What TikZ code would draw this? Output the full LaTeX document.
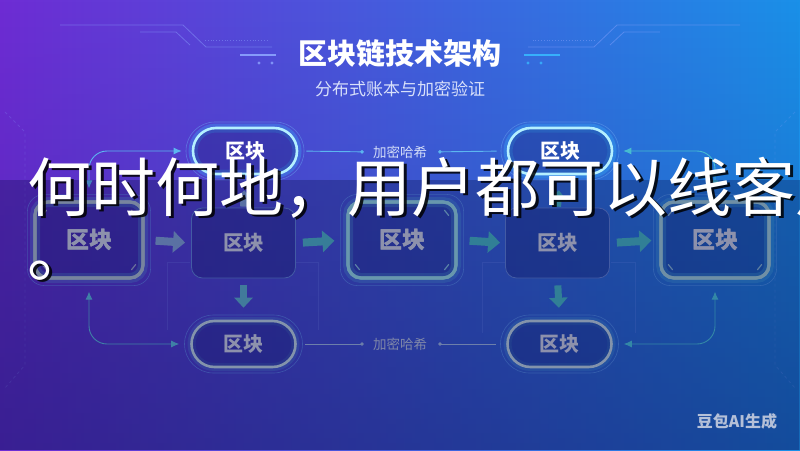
\documentclass[tikz,border=0pt]{standalone}
\usepackage{fontspec}
\setmainfont{Noto Sans CJK SC}
\usetikzlibrary{arrows.meta,shapes.misc,fadings,calc}

\definecolor{bgA}{HTML}{6E2CD4}
\definecolor{bgB}{HTML}{3A52DC}
\definecolor{bgC}{HTML}{1A90E8}
\definecolor{bgDark}{HTML}{141A78}
\definecolor{bandC}{HTML}{0A1048}
\definecolor{decoC}{HTML}{8CA4FF}
\definecolor{ringC}{HTML}{6AA8F0}
\definecolor{nodeFill}{HTML}{14186A}
\definecolor{topLine}{HTML}{B4F0FF}
\definecolor{glowBlue}{HTML}{38B8FF}
\definecolor{glowTeal}{HTML}{5CC8E0}
\definecolor{botLine}{HTML}{B8CDD6}
\definecolor{labelGray}{HTML}{C6CAD8}
\definecolor{thinLine}{HTML}{5C7CCC}
\definecolor{lGray}{HTML}{A9B7C4}
\definecolor{cTeal}{HTML}{92D2DA}
\definecolor{rTeal}{HTML}{9CC6CE}
\definecolor{arrGray}{HTML}{7E9CCB}
\definecolor{arrTeal}{HTML}{42B0B8}
\definecolor{connBlue}{HTML}{5CB6F0}
\definecolor{connTeal}{HTML}{46BCD0}
\definecolor{hashTxt}{HTML}{D2DCF8}
\definecolor{subTxt}{HTML}{D8E0FA}
\definecolor{markTxt}{HTML}{B4C0D8}

\tikzfading[name=fadedown, top color=transparent!100, bottom color=transparent!0]

\tikzset{
 deco/.style={draw=decoC, line width=0.8pt, opacity=0.45},
 ring/.style={draw=ringC, line width=0.6pt, opacity=0.5},
 tick/.style={line width=1.2pt, line cap=round, opacity=0.8},
 pill/.style={rounded rectangle, minimum width=104pt, minimum height=46pt, inner sep=0pt,
   line width=2.6pt, fill=nodeFill, fill opacity=0.3, text opacity=1,
   font=\bfseries\fontsize{20}{20}\selectfont},
 pilltop/.style={pill, draw=topLine, text=white,
   preaction={draw=glowBlue, line width=9pt, draw opacity=0.3}},
 pillbot/.style={pill, draw=botLine, text=labelGray,
   preaction={draw=glowTeal, line width=8pt, draw opacity=0.18}},
 thickbox/.style={rectangle, rounded corners=13pt, minimum width=108pt, minimum height=76pt,
   inner sep=0pt, line width=3.2pt, fill=nodeFill, fill opacity=0.3, text opacity=1,
   text=labelGray, font=\bfseries\fontsize{23}{23}\selectfont},
 thinbox/.style={rectangle, rounded corners=11pt, minimum width=104pt, minimum height=70pt,
   inner sep=0pt, draw=thinLine, line width=0.8pt, fill=nodeFill, fill opacity=0.35,
   text opacity=1, text=labelGray, font=\bfseries\fontsize{20.5}{20.5}\selectfont},
 barrow/.style={line width=8pt, -{Triangle[length=12pt,width=21pt]}},
 varrow/.style={line width=7pt, -{Triangle[length=10pt,width=18pt]}},
 conn/.style={line width=0.9pt, rounded corners=18pt,
   {Latex[length=8pt,width=7pt]}-{Latex[length=8pt,width=7pt]}},
 hline/.style={line width=0.9pt, -{Circle[length=3.5pt]}},
 hash/.style={inner sep=0pt, text=hashTxt, font=\fontsize{13.5}{13.5}\selectfont},
 big/.style={anchor=base west, inner sep=0pt, font=\fontsize{64}{64}\selectfont},
}

\newcommand\cornerticks[2]{%
  \draw[tick,#2] ($(#1.north west)+(9,15)$) -- ($(#1.north west)+(13,10)$);
  \draw[tick,#2] ($(#1.north east)+(-9,15)$) -- ($(#1.north east)+(-13,10)$);
  \draw[tick,#2] ($(#1.south west)+(9,-15)$) -- ($(#1.south west)+(13,-10)$);
  \draw[tick,#2] ($(#1.south east)+(-9,-15)$) -- ($(#1.south east)+(-13,-10)$);
}
\newcommand\glowbox[3]{% node, colour, glow
  \draw[#3, line width=10pt, opacity=0.22, rounded corners=13pt]
    ($(#1.north west)+(1.6,1.6)$) rectangle ($(#1.south east)+(-1.6,-1.6)$);
  \draw[ring, rounded corners=17pt]
    ($(#1.north west)+(-6,-6)$) rectangle ($(#1.south east)+(6,6)$);
}

\begin{document}
\begin{tikzpicture}[x=1pt,y=-1pt]
\useasboundingbox (0,0) rectangle (800,450);
\clip (0,0) rectangle (800,450);

% background
\shade[left color=bgA, middle color=bgB, right color=bgC] (0,0) rectangle (800,450);
\fill[bgDark, path fading=fadedown, opacity=0.35] (0,0) rectangle (800,450);

% circuit decorations, left
\draw[deco] (60,25) -- (183,25) -- (206,47) -- (272,47);
\draw[deco] (140,32) -- (176,32) -- (190,45);
\draw[deco, dotted, line width=1pt] (205,40) -- (268,40);
\draw[decoC, line width=2pt, opacity=0.9] (240,55) -- (276,55);
\fill[decoC, opacity=0.8] (259,63) circle (1.6) (272,63) circle (1.6);
% circuit decorations, right
\draw[deco] (740,25) -- (617,25) -- (594,47) -- (528,47);
\draw[deco] (660,32) -- (624,32) -- (610,45);
\draw[deco, dotted, line width=1pt] (595,40) -- (532,40);
\draw[glowBlue, line width=2pt, opacity=0.9] (560,55) -- (524,55);
\fill[glowBlue, opacity=0.8] (541,63) circle (1.6) (528,63) circle (1.6);
% side lines
\draw[deco, opacity=0.2, dashed] (5,112) -- (25,132) -- (25,365) -- (5,388);
\draw[deco, opacity=0.2, dashed] (795,112) -- (775,132) -- (775,365) -- (795,388);
% faint frames round middle columns
\draw[deco, opacity=0.18] (167,262) -- (167,330) (318,262) -- (318,330)
  (167,262) -- (190,262) (296,262) -- (318,262);
\draw[deco, opacity=0.18] (482,262) -- (482,333) (635,262) -- (635,333)
  (482,262) -- (505,262) (611,262) -- (635,262);

% nodes
\node[pilltop] (T1) at (245,151) {区块};
\node[pilltop] (T2) at (560,151) {区块};
\node[pillbot] (B1) at (243.5,344) {区块};
\node[pillbot] (B2) at (559.5,344) {区块};
\draw[ring, rounded corners=29pt] ($(T1.center)+(-59,-29)$) rectangle ($(T1.center)+(59,29)$);
\draw[ring, rounded corners=29pt] ($(T2.center)+(-59,-29)$) rectangle ($(T2.center)+(59,29)$);
\draw[ring, rounded corners=29pt] ($(B1.center)+(-59,-29)$) rectangle ($(B1.center)+(59,29)$);
\draw[ring, rounded corners=29pt] ($(B2.center)+(-59,-29)$) rectangle ($(B2.center)+(59,29)$);

\node[thickbox, draw=lGray] (L1) at (89,240) {区块};
\node[thickbox, draw=cTeal] (C) at (402,240) {区块};
\node[thickbox, draw=rTeal] (R) at (715,240) {区块};
\glowbox{L1}{lGray}{glowTeal}
\glowbox{C}{cTeal}{glowTeal}
\glowbox{R}{rTeal}{glowTeal}
\node[thickbox, draw=lGray, fill opacity=0] at (L1.center) {区块};
\node[thickbox, draw=cTeal, fill opacity=0] at (C.center) {区块};
\node[thickbox, draw=rTeal, fill opacity=0] at (R.center) {区块};
\cornerticks{L1}{lGray}
\cornerticks{C}{cTeal}
\cornerticks{R}{rTeal}

\node[thinbox] (M1) at (243.5,243) {区块};
\node[thinbox] (M2) at (557.5,243) {区块};

% block arrows
\draw[barrow, arrGray, shorten <=11pt, shorten >=6pt] (L1.east) -- (M1.west);
\draw[barrow, arrTeal!85!arrGray, shorten <=7pt, shorten >=12pt] (M1.east) -- (C.west);
\draw[barrow, arrTeal, shorten <=12pt, shorten >=5pt] (C.east) -- (M2.west);
\draw[barrow, arrTeal, shorten <=7pt, shorten >=8pt] (M2.east) -- (R.west);
\draw[varrow, arrTeal!60!arrGray, shorten <=7pt, shorten >=12pt] (M1.south) -- (B1.north);
\draw[varrow, arrTeal, shorten <=7pt, shorten >=12pt] (M2.south) -- (B2.north);
\draw[varrow, arrGray, shorten <=1pt, shorten >=15pt] (M1.north) -- (T1.south);
\draw[varrow, arrTeal, shorten <=1pt, shorten >=15pt] (M2.north) -- (T2.south);

% hash labels and lines
\node[hash] (H1) at (400,152) {加密哈希};
\node[hash, text=hashTxt!85!black] (H2) at (400,344) {加密哈希};
\draw[hline, connBlue, shorten <=8pt, shorten >=9pt] (T1.east) -- (H1.west);
\draw[hline, connBlue, shorten <=10pt, shorten >=11pt] (T2.west) -- (H1.east);
\draw[hline, arrGray!80!white, shorten <=8pt, shorten >=9pt] (B1.east) -- (H2.west);
\draw[hline, arrGray!80!white, shorten <=10pt, shorten >=11pt] (B2.west) -- (H2.east);

% curved connectors
\draw[conn, connBlue, shorten <=12pt, shorten >=10pt] (L1.north) |- (T1.west);
\draw[conn, connTeal!70!arrGray, shorten <=12pt, shorten >=11pt] (L1.south) |- (B1.west);
\draw[conn, connTeal, shorten <=12pt, shorten >=10pt] (R.north) |- (T2.east);
\draw[conn, connTeal, shorten <=12pt, shorten >=11pt] (R.south) |- (B2.east);

% title
\node[text=white, font=\bfseries\fontsize{29}{29}\selectfont] (title) at (400,53) {区块链技术架构};
\node[text=subTxt, font=\fontsize{17}{17}\selectfont] (subtitle) at (400,89) {分布式账本与加密验证};

% overlay band (down to the bottom edge)
\fill[bandC, opacity=0.3] (0,180) rectangle (800,450);

% mark
\node[text=markTxt, font=\bfseries\fontsize{16}{16}\selectfont] (mark) at (737,421) {豆包AI生成};

% overlay text
\node[big, text=black, opacity=0.85] (wm1s) at (30,213.5) {何时何地，用户都可以线客户};
\node[big, text=black, opacity=0.85] (wm2s) at (30,278.5) {。};
\node[big, text=white] (wm1) at (27.5,211) {何时何地，用户都可以线客户};
\node[big, text=white] (wm2) at (27.5,276) {。};
\end{tikzpicture}
\end{document}
